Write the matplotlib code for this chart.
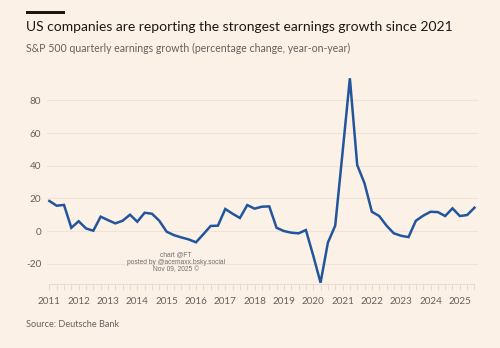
import numpy as np
import matplotlib
matplotlib.use("Agg")
import matplotlib.pyplot as plt
from matplotlib.ticker import FixedLocator

# Data: S&P 500 quarterly earnings growth, % y/y, 2011 Q1 .. 2025 Q3
start_year = 2011
growth = [
    18.4, 15.5, 16.0, 2.0,      # 2011
    6.0, 1.6, 0.2, 8.8,         # 2012
    6.7, 4.7, 6.3, 10.0,        # 2013
    5.7, 11.2, 10.6, 6.3,       # 2014
    -0.4, -2.5, -3.9, -5.1,     # 2015
    -6.9, -2.0, 3.1, 3.3,       # 2016
    13.5, 10.6, 8.0, 15.9,      # 2017
    13.7, 14.9, 15.1, 2.0,      # 2018
    0.0, -1.0, -1.4, 0.6,       # 2019
    -15.0, -31.6, -7.1, 3.3,    # 2020
    48.0, 93.5, 40.4, 29.2,     # 2021
    11.8, 9.2, 3.3, -1.4,       # 2022
    -2.9, -3.7, 6.3, 9.4,       # 2023
    11.8, 11.6, 9.2, 13.9,      # 2024
    9.2, 9.8, 14.3,             # 2025
]
year_labels = [str(y) for y in range(2011, 2026)]
y_ticks = [-20, 0, 20, 40, 60, 80]

title = "US companies are reporting the strongest earnings growth since 2021"
subtitle = "S&P 500 quarterly earnings growth (percentage change, year-on-year)"
source = "Source: Deutsche Bank"
watermark = "chart @FT\nposted by @acemaxx.bsky.social\nNov 09, 2025 \u00a9"

BG = "#fcf1e7"
LINE = "#22559c"
GRID = "#efe3d8"
TXT = "#66605c"

plt.rcParams['font.family'] = ['Lato', 'DejaVu Sans']

W, H = 500, 348
fig = plt.figure(figsize=(W / 100, H / 100), dpi=100, facecolor=BG)

x = start_year + np.arange(len(growth)) * 0.25

ax_l, ax_r = 47 / W, 478 / W
ax_b, ax_t = 1 - 283.5 / H, 1 - 75 / H
ax = fig.add_axes([ax_l, ax_b, ax_r - ax_l, ax_t - ax_b])
ax.set_facecolor(BG)
ax.plot(x, growth, color=LINE, lw=1.8, solid_joinstyle='miter', zorder=3, clip_on=False)

ax.set_xlim(2010.92, 2025.62)
ax.set_ylim(-32.1, 95.5)

ax.set_yticks(y_ticks)
ax.set_yticklabels([str(v) for v in y_ticks])
ax.yaxis.grid(True, color=GRID, lw=0.8)
ax.tick_params(axis='y', length=0, pad=4, labelsize=7.2, labelcolor=TXT)

ax.xaxis.set_major_locator(FixedLocator(list(range(2011, 2026))))
ax.set_xticklabels(year_labels)
ax.xaxis.set_minor_locator(FixedLocator(list(np.arange(2011, 2025.51, 0.25))))
ax.tick_params(axis='x', which='both', length=4.5, color='#e6d9ce', width=0.7,
               labelsize=7.1, labelcolor=TXT, pad=5)

for s in ['top', 'right', 'left']:
    ax.spines[s].set_visible(False)
ax.spines['bottom'].set_color('#e6d9ce')
ax.spines['bottom'].set_linewidth(0.7)
ax.spines['bottom'].set_bounds(2011, 2025.5)

# title decorations
fig.add_artist(plt.Rectangle((26 / W, 1 - 14 / H), 39 / W, 2.5 / H,
                             transform=fig.transFigure, color='#1a1817', lw=0))
fig.text(26 / W, 1 - 27 / H, title, fontsize=10.0, color='#1a1817', va='center', ha='left')
fig.text(26 / W, 1 - 48 / H, subtitle, fontsize=7.6, color=TXT, va='center', ha='left')
fig.text(26 / W, 1 - 324.5 / H, source, fontsize=6.6, color=TXT, va='center', ha='left')

fig.text(176 / W, 1 - 262.5 / H, watermark, fontsize=4.8, color='#6e6e6e',
         va='center', ha='center', family=['Liberation Sans', 'DejaVu Sans'], linespacing=1.05)

fig.savefig("out.png", dpi=100, facecolor=BG)
